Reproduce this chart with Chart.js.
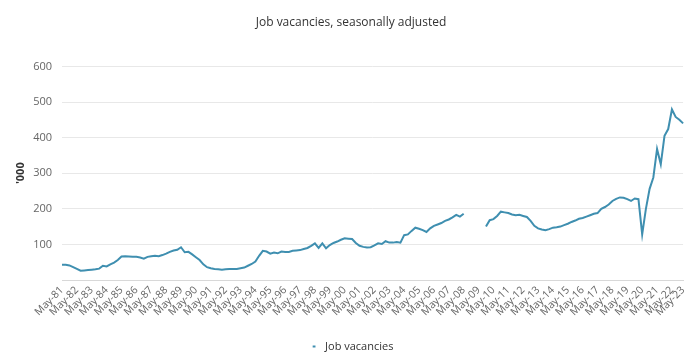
<!DOCTYPE html>
<html>
<head>
<meta charset="utf-8">
<script src="https://cdn.jsdelivr.net/npm/chart.js@4"></script>
<style>
html,body{margin:0;padding:0;background:#fff;}
#wrap{width:696px;height:356px;position:relative;}
</style>
</head>
<body>
<div id="wrap"><canvas id="c" width="696" height="356"></canvas></div>
<script>
// Chart text
const chartTitle = "Job vacancies, seasonally adjusted";
const yAxisTitle = "'000";
const seriesName = "Job vacancies";

// Categories: quarterly, May-81 .. May-23
const months = ["May", "Aug", "Nov", "Feb"];
const firstYear = 1981;
const lastYear = 2023;

// Y-axis ticks
const yTicks = [0, 100, 200, 300, 400, 500, 600];

// Job vacancies ('000), quarterly from May-81 (null = survey suspended)
const vacancies = [
  43, 43, 41, 36,      // 1981-82
  31, 26, 27, 28,      // 1982-83
  29, 30, 32, 40,      // 1983-84
  38, 44, 49, 56,      // 1984-85
  66, 67, 66, 65,      // 1985-86
  65, 63, 60, 65,      // 1986-87
  67, 68, 67, 70,      // 1987-88
  74, 79, 83, 85,      // 1988-89
  92, 78, 79, 72,      // 1989-90
  64, 56, 44, 36,      // 1990-91
  33, 31, 30, 29,      // 1991-92
  30, 31, 31, 31,      // 1992-93
  33, 35, 40, 45,      // 1993-94
  52, 68, 82, 80,      // 1994-95
  74, 77, 75, 80,      // 1995-96
  79, 79, 82, 83,      // 1996-97
  84, 87, 90, 96,      // 1997-98
  103, 90, 103, 89,    // 1998-99
  98, 104, 108, 113,   // 1999-00
  117, 116, 115, 104,  // 2000-01
  96, 93, 91, 92,      // 2001-02
  97, 103, 101, 109,   // 2002-03
  105, 105, 107, 105,  // 2003-04
  126, 128, 138, 147,  // 2004-05
  144, 140, 135, 145,  // 2005-06
  152, 156, 160, 166,  // 2006-07
  170, 176, 183, 178,  // 2007-08
  186, null, null, null, // 2008-09
  null, null, 150, 168,  // 2009-10
  171, 180, 192, 190,  // 2010-11
  188, 184, 182, 183,  // 2011-12
  180, 177, 166, 152,  // 2012-13
  145, 142, 140, 143,  // 2013-14
  147, 148, 150, 154,  // 2014-15
  158, 163, 167, 172,  // 2015-16
  174, 178, 182, 186,  // 2016-17
  188, 200, 205, 212,  // 2017-18
  222, 228, 232, 231,  // 2018-19
  227, 222, 229, 227,  // 2019-20
  128, 200, 256, 288,  // 2020-21
  368, 325, 405, 424,  // 2021-22
  479, 458, 450, 440,  // 2022-23
  434                  // May-23
];

const labels = [];
for (let y = firstYear; y <= lastYear; y++) {
  for (let q = 0; q < 4; q++) {
    const yr = q === 3 ? y + 1 : y;
    if (yr > lastYear || (yr === lastYear && q > 0)) continue;
    labels.push(months[q] + "-" + String(yr % 100).padStart(2, "0"));
  }
}
const labelsTrim = labels.slice(0, vacancies.length);

const FONT = "'Open Sans', 'DejaVu Sans', sans-serif";

new Chart(document.getElementById("c"), {
  type: "line",
  data: {
    labels: labelsTrim,
    datasets: [{
      label: seriesName,
      data: vacancies,
      borderColor: "#3f8fb0",
      backgroundColor: "#3f8fb0",
      borderWidth: 2,
      pointRadius: 0,
      pointHoverRadius: 0,
      tension: 0,
      spanGaps: false
    }]
  },
  options: {
    responsive: false,
    animation: false,
    layout: { padding: { left: 14, right: 8, top: 0, bottom: -6 } },
    plugins: {
      title: {
        display: true,
        text: chartTitle,
        color: "#333333",
        font: { family: FONT, size: 12, weight: "normal" },
        padding: { top: 15, bottom: 37 }
      },
      legend: {
        display: true,
        position: "bottom",
        labels: {
          usePointStyle: true,
          pointStyle: "line",
          boxWidth: 12,
          boxHeight: 2,
          color: "#333333",
          font: { family: FONT, size: 11 },
          padding: 2
        }
      },
      tooltip: { enabled: false }
    },
    scales: {
      x: {
        grid: { display: false, drawTicks: false },
        border: { display: true, color: "#d8d8d8", width: 1 },
        ticks: {
          autoSkip: false,
          minRotation: 45,
          maxRotation: 45,
          padding: 4,
          color: "#666666",
          font: { family: FONT, size: 10.5 },
          callback: function (v, i) {
            const l = this.getLabelForValue(v);
            return l.startsWith("May") ? l : "";
          }
        },
        afterFit: function (s) { s.height = 59; }
      },
      y: {
        min: yTicks[0],
        max: yTicks[yTicks.length - 1],
        grid: { color: "#e8e8e8", drawTicks: false },
        border: { display: false },
        afterBuildTicks: function (s) { s.ticks = yTicks.map(v => ({ value: v })); },
        ticks: {
          padding: 10,
          color: "#666666",
          font: { family: FONT, size: 11 },
          callback: v => (v === 0 ? "" : String(v))
        },
        title: {
          display: true,
          text: yAxisTitle,
          color: "#333333",
          font: { family: FONT, size: 11, weight: "bold" },
          padding: { top: 0, bottom: 4 }
        },
        afterFit: function (s) { s.width = 48; }
      }
    }
  }
});
</script>
</body>
</html>
